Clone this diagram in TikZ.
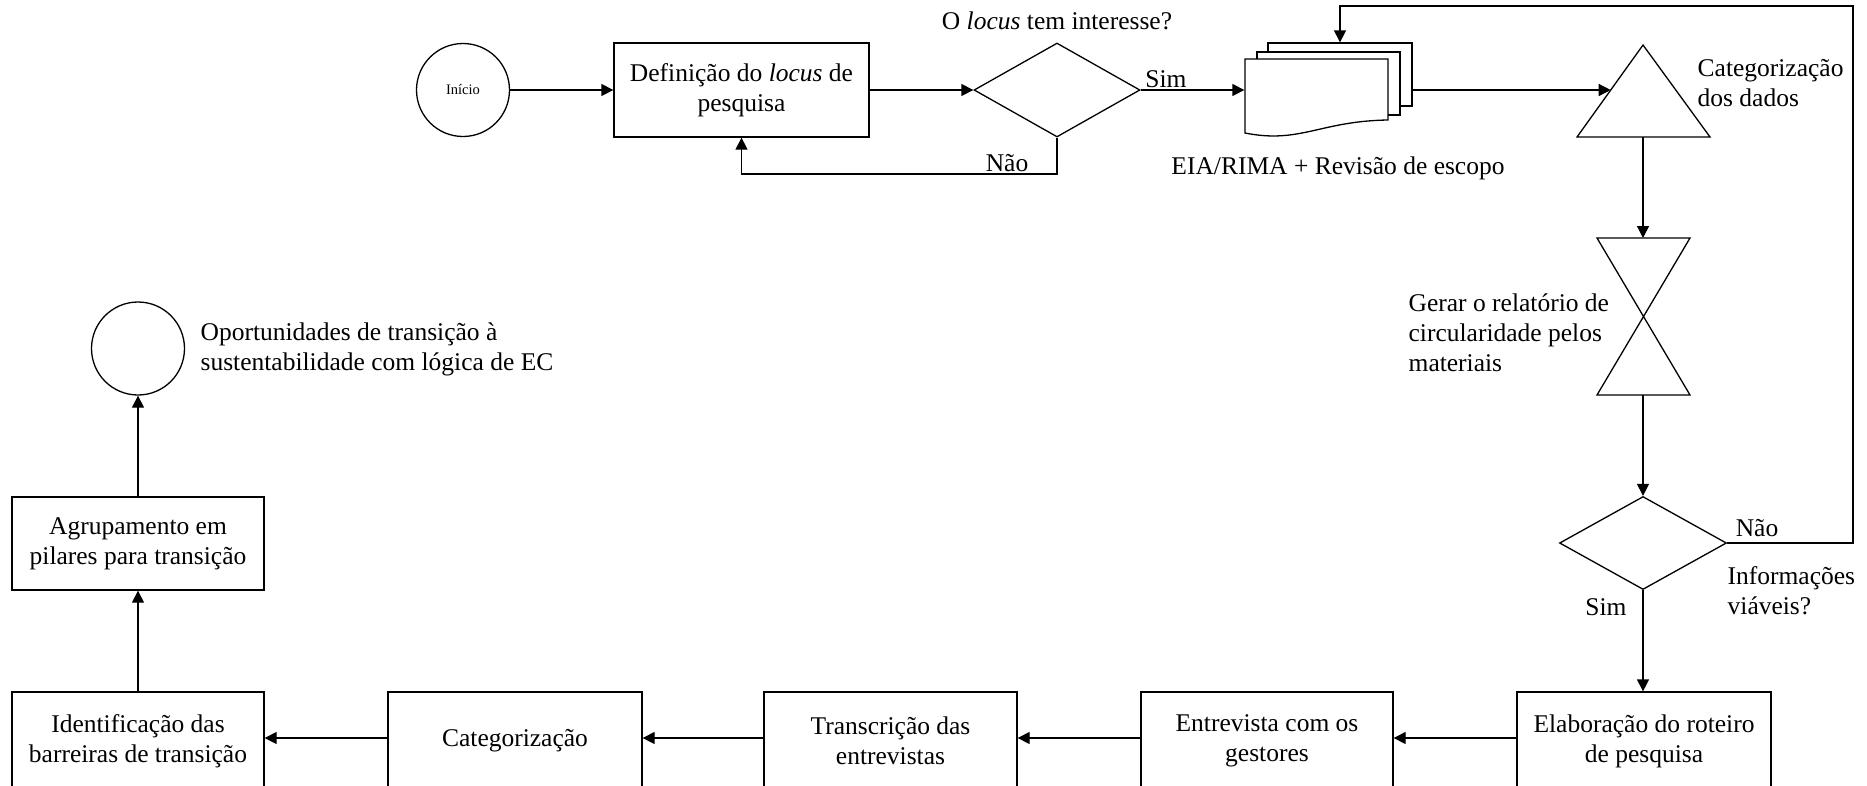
\documentclass[tikz,border=0pt]{standalone}
\usepackage{fontspec}
\setmainfont{Liberation Serif}
\usetikzlibrary{shapes.geometric,arrows.meta,calc}
\begin{document}
\begin{tikzpicture}[x=1pt,y=-1pt,
  line width=1.3pt,
  every node/.style={font=\fontsize{25.5}{30}\selectfont},
  arr/.style={-{Triangle[length=12pt,width=12pt]}},
  box/.style={draw,rectangle,minimum width=254pt,minimum height=94pt,align=center,inner sep=2pt},
  dec/.style={draw,diamond,inner sep=0pt},
  lbl/.style={align=left,inner sep=0pt},
  pg/.style={draw,fill=white,rectangle,inner sep=0pt}
]
\clip (0,0) rectangle (1867,785);

% top row
\node[draw,circle,minimum size=93pt,inner sep=0pt,font=\fontsize{14.5}{17}\selectfont] (start) at (463,90) {Início};
\node[box,minimum width=255pt] (def) at (741.5,90) {Definição do \textit{locus} de\\pesquisa};
\node[dec,minimum width=166pt,minimum height=94pt] (d1) at (1057,90) {};
\node (q1) at (1057,21) {O \textit{locus} tem interesse?};
\node (sim1) at (1166,79) {Sim};
\node (nao1) at (1007,163) {Não};

% document stack
\node[pg,minimum width=144pt,minimum height=63pt] (p3) at (1340,74.5) {};
\node[pg,minimum width=143pt,minimum height=63pt] (p2) at (1328.5,83.5) {};
\draw[fill=white] (1245,59) -- (1388,59) -- (1388,120)
  .. controls (1320,121) and (1300,144) .. (1245,133) -- cycle;
\node[inner sep=0pt,minimum width=143pt,minimum height=74pt] (doc) at (1316.5,96) {};
\node (eia) at (1338,168) {EIA/RIMA + Revisão de escopo};

% triangle
\coordinate (triA) at (1643,45);
\coordinate (triB) at (1643,137);
\coordinate (triL) at (1610.7,90);
\draw (1577,137) -- (triA) -- (1710,137) -- cycle;
\node[lbl,anchor=west] (catd) at (1697,83) {Categorização\\dos dados};

% hourglass
\coordinate (hgT) at (1643,238);
\coordinate (hgB) at (1643,395);
\draw (1597,238) -- (1690,238) -- (1597,395) -- (1690,395) -- cycle;
\node[lbl,anchor=west] (gerar) at (1408,333) {Gerar o relatório de\\circularidade pelos\\materiais};

% second decision
\node[dec,minimum width=167pt,minimum height=93pt] (d2) at (1643,543) {};
\node (nao2) at (1757,528) {Não};
\node[lbl,anchor=west] (info) at (1727,591) {Informações\\viáveis?};
\node (sim2) at (1606,607) {Sim};
\coordinate (rc) at (1853,6);

% bottom row
\node[box,minimum height=98pt] (elab) at (1644,741) {Elaboração do roteiro\\de pesquisa};
\node[box,minimum width=252pt,minimum height=98pt] (entr) at (1267,741) {Entrevista com os\\gestores};
\node[box,minimum width=253pt,minimum height=98pt] (trans) at (890.5,741) {Transcrição das\\entrevistas};
\node[box,minimum height=98pt] (categ) at (515,741) {Categorização};
\node[box,minimum width=252pt,minimum height=98pt] (ident) at (138,741) {Identificação das\\barreiras de transição};

% left column
\node[box,minimum width=252pt,minimum height=93pt] (agrup) at (138,543.5) {Agrupamento em\\pilares para transição};
\node[draw,circle,minimum size=93pt,inner sep=0pt] (endc) at (138,348.5) {};
\node[lbl,anchor=west] (oport) at (200,349) {Oportunidades de transição à\\sustentabilidade com lógica de EC};

% connectors
\draw[arr] (start) -- (def);
\draw[arr] (def) -- (d1);
\coordinate (loopA) at (1057,174);
\draw[arr] (d1.south) |- (def.south |- loopA) -- (def.south);
\draw[arr] (d1.east) -- (d1.east -| doc.west);
\draw[arr] (p3.east |- d1.east) -- (triL);
\draw[arr] (triB) -- (hgT);
\draw[arr] (hgB) -- (d2.north);
\draw[arr] (d2.east) -| (rc) -| (p3.north);
\draw[arr] (d2.south) -- (d2.south |- elab.north);
\draw[arr] ([yshift=3pt]elab.west) -- ([yshift=3pt]entr.east);
\draw[arr] ([yshift=3pt]entr.west) -- ([yshift=3pt]trans.east);
\draw[arr] ([yshift=3pt]trans.west) -- ([yshift=3pt]categ.east);
\draw[arr] ([yshift=3pt]categ.west) -- ([yshift=3pt]ident.east);
\draw[arr] (ident) -- (agrup);
\draw[arr] (agrup) -- (endc);
\end{tikzpicture}
\end{document}
